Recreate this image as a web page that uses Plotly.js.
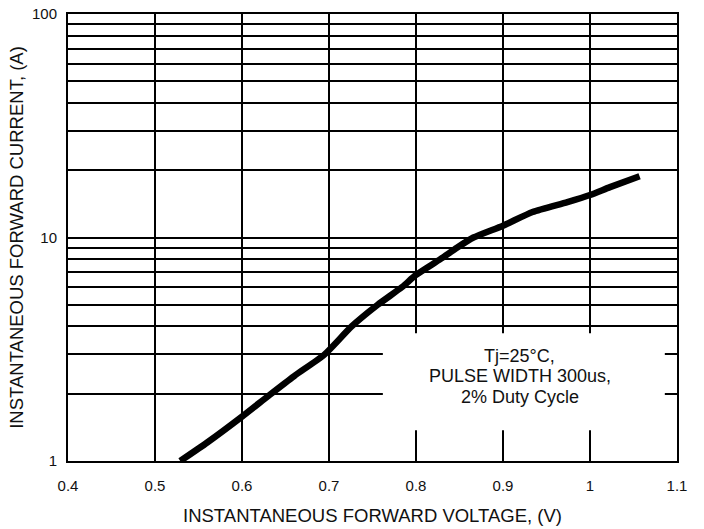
<!DOCTYPE html>
<html>
<head>
<meta charset="utf-8">
<script src="https://cdn.plot.ly/plotly-3.0.1.min.js"></script>
<style>html,body{margin:0;padding:0;background:#fff;}#chart{width:704px;height:529px;}</style>
</head>
<body>
<div id="chart"></div>
<script>
// Forward voltage (V) and forward current (A)
const voltage = [0.529, 0.56, 0.6, 0.632, 0.66, 0.695, 0.726, 0.756, 0.784, 0.80, 0.828, 0.847, 0.866, 0.9, 0.934, 0.974, 1.0, 1.023, 1.057];
const current = [1.0, 1.21, 1.58, 1.98, 2.4, 3.0, 4.0, 5.0, 6.0, 6.8, 8.0, 9.0, 10.0, 11.3, 13.0, 14.4, 15.5, 16.8, 18.8];

const xTicks = [0.4, 0.5, 0.6, 0.7, 0.8, 0.9, 1.0, 1.1];
const xTickText = ['0.4', '0.5', '0.6', '0.7', '0.8', '0.9', '1', '1.1'];
const yTicks = [1, 2, 3, 4, 5, 6, 7, 8, 9, 10, 20, 30, 40, 50, 60, 70, 80, 90, 100];
const yTickText = ['1', '', '', '', '', '', '', '', '', '10', '', '', '', '', '', '', '', '', '100'];

const noteLines = ['Tj=25°C,', 'PULSE WIDTH 300us,', '2% Duty Cycle'];
const xTitle = 'INSTANTANEOUS FORWARD VOLTAGE, (V)';
const yTitle = 'INSTANTANEOUS FORWARD CURRENT, (A)';

const font = '"Liberation Sans", Arial, sans-serif';
const ink = '#111';

// note block: centred at paper x, lines spaced ~20.5 px (plot height 447 px)
const noteX = 0.742;
const noteTop = 0.236;
const noteStep = 20.5 / 447;

const annotations = noteLines.map((t, i) => ({
  xref: 'paper', yref: 'paper', x: noteX, y: noteTop - i * noteStep,
  text: t, showarrow: false, xanchor: 'center', yanchor: 'middle',
  font: {size: 18, family: font, color: ink}
}));

Plotly.newPlot('chart', [{
  x: voltage,
  y: current,
  type: 'scatter',
  mode: 'lines',
  line: {color: '#000', width: 6.5, shape: 'spline', smoothing: 0.6},
  hoverinfo: 'skip',
  showlegend: false
}], {
  width: 704,
  height: 529,
  margin: {l: 68, r: 27, t: 14, b: 68},
  paper_bgcolor: '#fff',
  plot_bgcolor: '#fff',
  font: {family: font, color: ink, size: 15},
  xaxis: {
    range: [0.4, 1.1],
    tickvals: xTicks,
    ticktext: xTickText,
    showgrid: true,
    gridcolor: '#000',
    gridwidth: 2,
    showline: true,
    linecolor: '#000',
    linewidth: 2,
    mirror: true,
    zeroline: false,
    ticks: 'outside',
    ticklen: 10,
    tickcolor: 'rgba(0,0,0,0)',
    tickfont: {size: 15, family: font, color: ink},
    title: {text: xTitle, font: {size: 18.5, family: font, color: ink}, standoff: 16}
  },
  yaxis: {
    type: 'log',
    range: [0, 2],
    tickvals: yTicks,
    ticktext: yTickText,
    showgrid: true,
    gridcolor: '#000',
    gridwidth: 2,
    showline: true,
    linecolor: '#000',
    linewidth: 2,
    mirror: true,
    zeroline: false,
    ticks: 'outside',
    ticklen: 6,
    tickcolor: 'rgba(0,0,0,0)',
    tickfont: {size: 15, family: font, color: ink},
    title: {text: yTitle, font: {size: 18.5, family: font, color: ink}, standoff: 3}
  },
  shapes: [{
    type: 'rect', xref: 'paper', yref: 'paper',
    x0: 0.517, x1: 0.980, y0: 0.069, y1: 0.286,
    fillcolor: '#fff', line: {width: 0}, layer: 'above'
  }],
  annotations: annotations
}, {staticPlot: true});
</script>
</body>
</html>
